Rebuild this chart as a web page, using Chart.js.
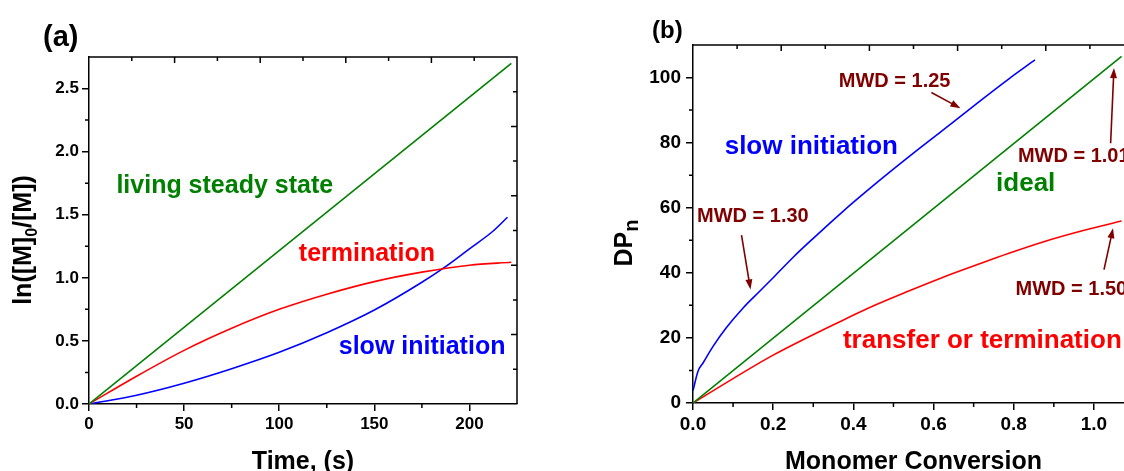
<!DOCTYPE html>
<html>
<head>
<meta charset="utf-8">
<script src="https://cdn.jsdelivr.net/npm/chart.js@4.4.1/dist/chart.umd.min.js"></script>
<style>
  html, body { margin: 0; padding: 0; background: #fff; overflow: hidden; }
  #wrap { position: relative; width: 1124px; height: 471px; overflow: hidden; }
  #chartA { position: absolute; left: 0; top: 0; }
  #chartB { position: absolute; left: 560px; top: 0; }
</style>
</head>
<body>
<div id="wrap">
  <canvas id="chartA" width="560" height="471" style="width:560px;height:471px"></canvas>
  <canvas id="chartB" width="620" height="471" style="width:620px;height:471px"></canvas>
</div>
<script>
// ---- panel (a): ln([M]0/[M]) vs time ----
const timeSteady = [0, 222];
const lnSteady = [0, 2.70];
const timeTerm = [0, 25, 50, 75, 100, 125, 150, 175, 200, 222];
const lnTerm = [0, 0.22, 0.425, 0.60, 0.75, 0.87, 0.97, 1.045, 1.10, 1.123];
const timeSlow = [0, 25, 50, 75, 100, 125, 150, 175, 188, 200, 212, 220];
const lnSlow = [0, 0.07, 0.165, 0.28, 0.41, 0.565, 0.745, 0.965, 1.095, 1.23, 1.365, 1.48];

const timeTicks = [0, 50, 100, 150, 200];
const timeTickLabels = ['0', '50', '100', '150', '200'];
const timeMinor = [25, 75, 125, 175];
const lnTicks = [0, 0.5, 1.0, 1.5, 2.0, 2.5];
const lnTickLabels = ['0.0', '0.5', '1.0', '1.5', '2.0', '2.5'];
const lnMinor = [0.25, 0.75, 1.25, 1.75, 2.25];

// ---- panel (b): DPn vs monomer conversion ----
const convIdeal = [0, 1.069];
const dpIdeal = [0, 106.5];
const convSlow = [0, 0.0125, 0.025, 0.05, 0.083, 0.125, 0.167, 0.2, 0.25, 0.3, 0.3715, 0.4547, 0.538, 0.621, 0.7045, 0.788, 0.853];
const dpSlow = [3.8, 9.75, 12.3, 17.4, 23.1, 29.2, 34.4, 38.5, 44.8, 50.6, 58.6, 67.3, 75.6, 83.6, 91.7, 99.6, 105.4];
const convTrans = [0, 0.1, 0.2, 0.3715, 0.4547, 0.538, 0.621, 0.7045, 0.788, 0.871, 0.971, 1.069];
const dpTrans = [0, 7.5, 14.7, 25.3, 30.1, 34.4, 38.5, 42.3, 46.0, 49.4, 52.9, 55.9];

const convTicks = [0, 0.2, 0.4, 0.6, 0.8, 1.0];
const convTickLabels = ['0.0', '0.2', '0.4', '0.6', '0.8', '1.0'];
const convMinor = [0.1, 0.3, 0.5, 0.7, 0.9];
const dpTicks = [0, 20, 40, 60, 80, 100];
const dpTickLabels = ['0', '20', '40', '60', '80', '100'];
const dpMinor = [10, 30, 50, 70, 90];

const FONT = "'Liberation Sans', Arial, Helvetica, sans-serif";
const GREEN = '#008000', RED = '#ff0000', BLUE = '#0000ff', MAROON = '#800000';
const frameDivs = 10; // top and right frame ticks

function pts(xs, ys) {
  return xs.map((v, i) => ({ x: v, y: ys[i] }));
}

function drawArrow(ctx, x0, y0, x1, y1, color) {
  const ang = Math.atan2(y1 - y0, x1 - x0);
  const head = 10, half = 3.5;
  ctx.strokeStyle = color;
  ctx.fillStyle = color;
  ctx.lineWidth = 1.6;
  ctx.beginPath();
  ctx.moveTo(x0, y0);
  ctx.lineTo(x1 - Math.cos(ang) * head * 0.8, y1 - Math.sin(ang) * head * 0.8);
  ctx.stroke();
  ctx.beginPath();
  ctx.moveTo(x1, y1);
  ctx.lineTo(x1 - Math.cos(ang) * head + Math.sin(ang) * half, y1 - Math.sin(ang) * head - Math.cos(ang) * half);
  ctx.lineTo(x1 - Math.cos(ang) * head - Math.sin(ang) * half, y1 - Math.sin(ang) * head + Math.cos(ang) * half);
  ctx.closePath();
  ctx.fill();
}

// draws text pieces in a row; sub pieces are smaller and lowered
function drawPieces(ctx, pieces, size, cx, baseY) {
  let total = 0;
  pieces.forEach(p => {
    ctx.font = 'bold ' + Math.round(size * (p.sub || 1)) + 'px ' + FONT;
    p.w = ctx.measureText(p.t).width;
    total += p.w;
  });
  let x = cx - total / 2;
  pieces.forEach(p => {
    ctx.font = 'bold ' + Math.round(size * (p.sub || 1)) + 'px ' + FONT;
    ctx.fillText(p.t, x, baseY + (p.sub ? size * 0.22 : 0));
    x += p.w;
  });
}

const decor = {
  id: 'decor',
  afterDraw(chart, args, o) {
    const { ctx, chartArea: a } = chart;
    const sx = chart.scales.x, sy = chart.scales.y;
    ctx.save();
    ctx.strokeStyle = '#000';
    ctx.lineWidth = 1.5;
    ctx.beginPath();
    ctx.moveTo(a.left, a.top); ctx.lineTo(a.right, a.top); ctx.lineTo(a.right, a.bottom);
    ctx.stroke();

    // outward minor ticks
    ctx.beginPath();
    o.minorX.forEach(v => {
      const p = sx.getPixelForValue(v);
      ctx.moveTo(p, a.bottom); ctx.lineTo(p, a.bottom + 4);
    });
    o.minorY.forEach(v => {
      const p = sy.getPixelForValue(v);
      ctx.moveTo(a.left, p); ctx.lineTo(a.left - 4, p);
    });
    // inward ticks on the mirror axes
    for (let i = 1; i < frameDivs; i++) {
      const len = i % 2 ? 4 : 6;
      const px = a.left + (a.right - a.left) * i / frameDivs;
      ctx.moveTo(px, a.top); ctx.lineTo(px, a.top + len);
      const py = a.bottom - (a.bottom - a.top) * i / frameDivs;
      ctx.moveTo(a.right, py); ctx.lineTo(a.right - len, py);
    }
    ctx.stroke();

    // labels inside the plot
    ctx.textBaseline = 'alphabetic';
    ctx.textAlign = 'left';
    o.texts.forEach(t => {
      ctx.font = 'bold ' + t.size + 'px ' + FONT;
      ctx.fillStyle = t.color;
      ctx.fillText(t.text, sx.getPixelForValue(t.x), sy.getPixelForValue(t.y));
    });
    o.arrows.forEach(r => {
      drawArrow(ctx, sx.getPixelForValue(r[0]), sy.getPixelForValue(r[1]),
        sx.getPixelForValue(r[2]), sy.getPixelForValue(r[3]), MAROON);
    });

    // panel tag
    ctx.fillStyle = '#000';
    ctx.font = 'bold ' + o.tag.size + 'px ' + FONT;
    ctx.fillText(o.tag.text, o.tag.x, o.tag.y);

    // axis titles
    ctx.fillStyle = '#000';
    drawPieces(ctx, o.xTitle, 25, (a.left + a.right) / 2, 469);
    ctx.save();
    ctx.translate(o.yTitleX, o.yTitleY);
    ctx.rotate(-Math.PI / 2);
    drawPieces(ctx, o.yTitle, 25, 0, 0);
    ctx.restore();
    ctx.restore();
  }
};

function axis(min, max, ticks, labels, size, pad, fit, isX) {
  return {
    type: 'linear',
    min: min,
    max: max,
    afterBuildTicks: s => { s.ticks = ticks.map(v => ({ value: v })); },
    afterFit: s => { if (isX) { s.height = fit; } else { s.width = fit; } },
    ticks: {
      color: '#000',
      padding: pad,
      autoSkip: false,
      maxRotation: 0,
      font: { family: FONT, size: size, weight: 'bold' },
      callback: (v, i) => labels[i]
    },
    grid: { drawOnChartArea: false, drawTicks: true, tickLength: 7, color: '#000', lineWidth: 1.5 },
    border: { color: '#000', width: 1.5 }
  };
}

function line(data, color, smooth) {
  return {
    data: data,
    borderColor: color,
    borderWidth: 1.6,
    pointRadius: 0,
    fill: false,
    cubicInterpolationMode: smooth ? 'monotone' : 'default',
    tension: 0
  };
}

new Chart(document.getElementById('chartA'), {
  type: 'line',
  data: {
    datasets: [
      line(pts(timeSteady, lnSteady), GREEN, false),
      line(pts(timeTerm, lnTerm), RED, true),
      line(pts(timeSlow, lnSlow), BLUE, true)
    ]
  },
  options: {
    responsive: false,
    animation: false,
    devicePixelRatio: 1,
    layout: { padding: { left: 0, top: 57, right: 43, bottom: 0 } },
    scales: {
      x: axis(0, 225, timeTicks, timeTickLabels, 17, 3, 67, true),
      y: axis(0, 2.75, lnTicks, lnTickLabels, 17, 3, 89, false)
    },
    plugins: {
      legend: { display: false },
      tooltip: { enabled: false },
      decor: {
        minorX: timeMinor,
        minorY: lnMinor,
        texts: [
          { text: 'living steady state', x: 14.4, y: 1.672, color: GREEN, size: 25 },
          { text: 'termination', x: 110.3, y: 1.134, color: RED, size: 25 },
          { text: 'slow initiation', x: 131.3, y: 0.396, color: BLUE, size: 25 }
        ],
        arrows: [],
        tag: { text: '(a)', x: 43, y: 46, size: 29 },
        xTitle: [{ t: 'Time, (s)' }],
        yTitle: [{ t: 'ln([M]' }, { t: '0', sub: 0.64 }, { t: '/[M])' }],
        yTitleX: 31,
        yTitleY: 240
      }
    }
  },
  plugins: [decor]
});

new Chart(document.getElementById('chartB'), {
  type: 'line',
  data: {
    datasets: [
      line(pts(convIdeal, dpIdeal), GREEN, false),
      line(pts(convSlow, dpSlow), BLUE, true),
      line(pts(convTrans, dpTrans), RED, true)
    ]
  },
  options: {
    responsive: false,
    animation: false,
    devicePixelRatio: 1,
    layout: { padding: { left: 0, top: 45, right: 46, bottom: 0 } },
    scales: {
      x: axis(0, 1.1, convTicks, convTickLabels, 19, 3, 68, true),
      y: axis(0, 110, dpTicks, dpTickLabels, 19, 5, 133, false)
    },
    plugins: {
      legend: { display: false },
      tooltip: { enabled: false },
      decor: {
        minorX: convMinor,
        minorY: dpMinor,
        texts: [
          { text: 'slow initiation', x: 0.079, y: 76.5, color: BLUE, size: 26 },
          { text: 'ideal', x: 0.756, y: 65.2, color: GREEN, size: 26 },
          { text: 'transfer or termination', x: 0.374, y: 16.9, color: RED, size: 26 },
          { text: 'MWD = 1.25', x: 0.3635, y: 97.05, color: MAROON, size: 20 },
          { text: 'MWD = 1.30', x: 0.01, y: 55.7, color: MAROON, size: 20 },
          { text: 'MWD = 1.01', x: 0.8104, y: 74.15, color: MAROON, size: 20 },
          { text: 'MWD = 1.50', x: 0.8044, y: 33.1, color: MAROON, size: 20 }
        ],
        arrows: [
          [0.5946, 95.4, 0.667, 90.6],
          [0.121, 51.6, 0.1434, 34.9],
          [1.0417, 79.8, 1.050, 102.9],
          [1.0252, 41.0, 1.0477, 53.7]
        ],
        tag: { text: '(b)', x: 92, y: 38, size: 24 },
        xTitle: [{ t: 'Monomer Conversion' }],
        yTitle: [{ t: 'DP' }, { t: 'n', sub: 0.8 }],
        yTitleX: 72,
        yTitleY: 243
      }
    }
  },
  plugins: [decor]
});
</script>
</body>
</html>
